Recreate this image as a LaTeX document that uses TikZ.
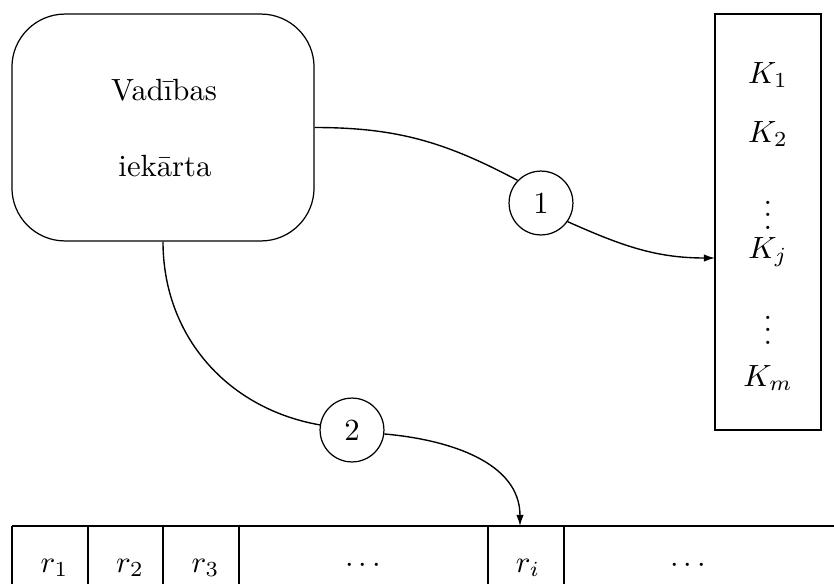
\documentclass[tikz,border=0pt]{standalone}
\usetikzlibrary{arrows.meta}
\begin{document}
\begin{tikzpicture}[x=0.3257pt,y=-0.3257pt,
  line width=0.4pt,
  ctrlbox/.style={draw,rounded corners=17.3pt,minimum width=98.4pt,minimum height=73.9pt,inner sep=0pt},
  membox/.style={draw,minimum width=34.5pt,minimum height=135.5pt,inner sep=0pt},
  numcirc/.style={draw,circle,minimum size=20.8pt,inner sep=0pt},
  lbl/.style={anchor=base,inner sep=0pt},
  dotlbl/.style={inner sep=0pt},
  conn/.style={line width=0.45pt},
  arr/.style={conn,-{Latex[length=3.6pt,width=2.4pt]}}]
\useasboundingbox (0,0) rectangle (834,584);
% control unit
\node[ctrlbox] (ctrl) at (163,127.5) {};
\node[lbl] (t1) at (164,100) {Vadības};
\node[lbl] (t2) at (165,176) {iekārta};
% memory box
\node[membox] (kbox) at (768,222) {};
\node[lbl] (k1) at (768,83) {$K_1$};
\node[lbl] (k2) at (768,142) {$K_2$};
\node[dotlbl] (v1) at (768,206) {$\vdots$};
\node[lbl] (kj) at (768,258) {$K_j$};
\node[dotlbl] (v2) at (768,321) {$\vdots$};
\node[lbl] (km) at (768,386) {$K_m$};
\coordinate (kin) at (715,258);
% circles
\node[numcirc] (c1) at (541,203) {1};
\node[numcirc] (c2) at (352,430) {2};
% tape
\coordinate (tl) at (12,526);
\coordinate (tr) at (834,526);
\draw (tl) -- (tr);
\foreach \xx in {12,88,163,239,488,564} {
  \draw (\xx,526) -- (\xx,584);
}
\node[lbl] (r1) at (54.5,572) {$r_1$};
\node[lbl] (r2) at (130,572) {$r_2$};
\node[lbl] (r3) at (205.5,572) {$r_3$};
\node[lbl] (d1) at (363,572) {$\cdots$};
\node[lbl] (ri) at (528,572) {$r_i$};
\node[lbl] (d2) at (688,572) {$\cdots$};
\coordinate (tapein) at (520,526);
% connectors
\draw[conn] (ctrl.east) to[out=0,in=152] (c1.136);
\draw[arr] (c1.-35) to[out=-24,in=180] (kin);
\draw[conn] (ctrl.south) to[out=-90,in=170] (c2.171);
\draw[arr] (c2.-7) to[out=-5,in=90] (tapein);
\end{tikzpicture}
\end{document}
